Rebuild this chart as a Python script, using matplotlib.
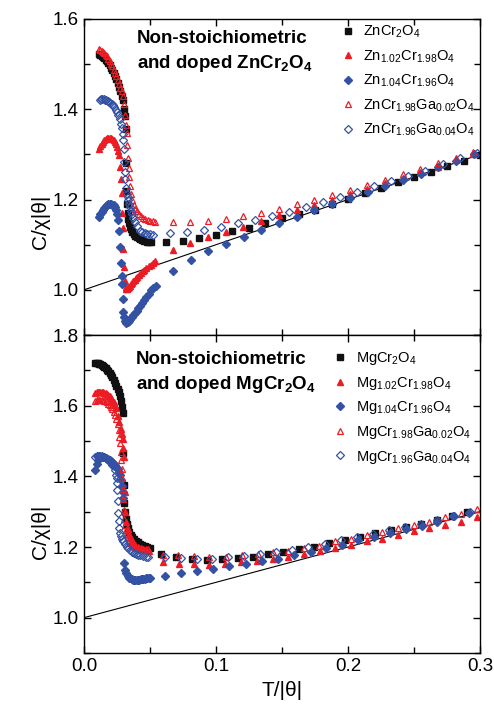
import matplotlib
matplotlib.use('Agg')
import matplotlib.pyplot as plt
from matplotlib.ticker import MultipleLocator

plt.rcParams['font.family'] = ['Liberation Sans', 'DejaVu Sans']
plt.rcParams['mathtext.default'] = 'regular'

RED = '#ec1c24'
BLUE = '#3452a4'
BLACK = '#111111'

# Curie-Weiss reference line  C/chi|theta| = 1 + T/|theta|
cw_x = [0.0, 0.3]
cw_y = [1.0, 1.3]

# ---------------- Top panel: Zn family ----------------
zn_labels = [r'ZnCr$_{2}$O$_{4}$', r'Zn$_{1.02}$Cr$_{1.98}$O$_{4}$', r'Zn$_{1.04}$Cr$_{1.96}$O$_{4}$',
             r'ZnCr$_{1.98}$Ga$_{0.02}$O$_{4}$', r'ZnCr$_{1.96}$Ga$_{0.04}$O$_{4}$']

zn0_x = [0.0115, 0.0125, 0.0135, 0.0145, 0.0155, 0.0165, 0.0175, 0.0185, 0.0195, 0.0205, 0.0215, 0.0225,
         0.0235, 0.0245, 0.0255, 0.0265, 0.0275, 0.0285, 0.0295, 0.0303, 0.0310, 0.0315, 0.0320, 0.0322,
         0.0325, 0.0330, 0.0336, 0.0343, 0.0350, 0.0358, 0.0367, 0.0377, 0.0388, 0.0400, 0.0413, 0.0427,
         0.0442, 0.0458, 0.0475, 0.0492, 0.0505,
         0.0625, 0.075, 0.0875, 0.1, 0.1125, 0.125, 0.1375, 0.15, 0.1625, 0.175, 0.1875, 0.2, 0.2125, 0.225,
         0.2375, 0.25, 0.2625, 0.275, 0.2875, 0.3]
zn0_y = [1.522, 1.520, 1.518, 1.516, 1.513, 1.510, 1.506, 1.502, 1.497, 1.492, 1.486, 1.480,
         1.473, 1.466, 1.458, 1.449, 1.440, 1.430, 1.420, 1.400, 1.385, 1.356, 1.282, 1.220,
         1.190, 1.170, 1.158, 1.148, 1.140, 1.134, 1.128, 1.123, 1.120, 1.117, 1.114, 1.112,
         1.110, 1.108, 1.107, 1.106, 1.105,
         1.107, 1.109, 1.114, 1.121, 1.130, 1.138, 1.148, 1.159, 1.169, 1.178, 1.190, 1.201, 1.214, 1.226,
         1.238, 1.250, 1.262, 1.274, 1.286, 1.299]

zn1_x = [0.0115, 0.0125, 0.0135, 0.0145, 0.0155, 0.0165, 0.0175, 0.0185, 0.0195, 0.0205, 0.0215, 0.0225,
         0.0235, 0.0245, 0.0253, 0.0260, 0.0266, 0.0273, 0.0279, 0.0285, 0.0290, 0.0294, 0.0298, 0.0303,
         0.0308, 0.0316, 0.0322, 0.0328, 0.0334, 0.0340, 0.0347, 0.0355, 0.0364, 0.0373, 0.0383, 0.0394,
         0.0405, 0.0417, 0.0430, 0.0444, 0.0458, 0.0473, 0.0489, 0.0505, 0.0522, 0.0540,
         0.0672, 0.0806, 0.094, 0.1074, 0.1208, 0.1342, 0.1476, 0.161, 0.1744, 0.1878, 0.2012, 0.2146,
         0.228, 0.2414, 0.2548, 0.2682, 0.2816, 0.295]
zn1_y = [1.313, 1.318, 1.323, 1.327, 1.331, 1.334, 1.336, 1.337, 1.337, 1.336, 1.334, 1.331,
         1.327, 1.322, 1.316, 1.308, 1.298, 1.272, 1.245, 1.214, 1.170, 1.138, 1.090, 1.050,
         1.020, 1.006, 1.003, 1.002, 1.004, 1.006, 1.009, 1.012, 1.015, 1.019, 1.022, 1.026,
         1.029, 1.033, 1.037, 1.041, 1.045, 1.049, 1.053, 1.056, 1.060, 1.064,
         1.088, 1.104, 1.116, 1.129, 1.140, 1.153, 1.165, 1.177, 1.188, 1.200, 1.213, 1.224,
         1.236, 1.248, 1.260, 1.273, 1.287, 1.300]

zn2_x = [0.0115, 0.0125, 0.0135, 0.0145, 0.0155, 0.0165, 0.0175, 0.0185, 0.0195, 0.0205, 0.0215, 0.0225,
         0.0235, 0.0245, 0.0253, 0.0260, 0.0266, 0.0273, 0.0279, 0.0285, 0.0290, 0.0294, 0.0298, 0.0303,
         0.0308, 0.0315, 0.0322, 0.0330, 0.0339, 0.0349, 0.0360, 0.0372, 0.0385, 0.0398, 0.0412, 0.0426,
         0.0441, 0.0457, 0.0473, 0.0490, 0.0508, 0.0525, 0.0543,
         0.0674, 0.0808, 0.0942, 0.1076, 0.121, 0.1344, 0.1478, 0.1612, 0.1746, 0.188, 0.2014, 0.2148,
         0.2282, 0.2416, 0.255, 0.2684, 0.2818, 0.2952]
zn2_y = [1.161, 1.167, 1.173, 1.178, 1.182, 1.186, 1.188, 1.190, 1.190, 1.190, 1.189, 1.187,
         1.184, 1.178, 1.168, 1.155, 1.130, 1.094, 1.060, 1.030, 1.013, 0.980, 0.952, 0.940,
         0.931, 0.928, 0.927, 0.928, 0.931, 0.935, 0.939, 0.944, 0.949, 0.954, 0.960, 0.965,
         0.971, 0.977, 0.984, 0.991, 0.999, 1.004, 1.009,
         1.042, 1.066, 1.085, 1.102, 1.118, 1.133, 1.147, 1.162, 1.176, 1.190, 1.204, 1.217,
         1.230, 1.244, 1.257, 1.272, 1.285, 1.300]

zn3_x = [0.0115, 0.0125, 0.0135, 0.0145, 0.0155, 0.0165, 0.0175, 0.0185, 0.0195, 0.0205, 0.0215, 0.0225,
         0.0235, 0.0245, 0.0255, 0.0265, 0.0275, 0.0285, 0.0295, 0.0303, 0.0310, 0.0317, 0.0323, 0.0328,
         0.0333, 0.0338, 0.0343, 0.0348, 0.0357, 0.0367, 0.0378, 0.0390, 0.0403, 0.0417, 0.0432, 0.0448,
         0.0465, 0.0483, 0.0500, 0.0520, 0.0538,
         0.0672, 0.0806, 0.094, 0.1074, 0.1208, 0.1342, 0.1476, 0.161, 0.1744, 0.1878, 0.2012, 0.2146,
         0.228, 0.2414, 0.2548, 0.2682, 0.2816, 0.295]
zn3_y = [1.534, 1.532, 1.530, 1.528, 1.525, 1.521, 1.517, 1.512, 1.507, 1.501, 1.495, 1.488,
         1.481, 1.473, 1.465, 1.457, 1.448, 1.440, 1.430, 1.412, 1.388, 1.365, 1.347, 1.320,
         1.293, 1.270, 1.250, 1.231, 1.212, 1.198, 1.188, 1.180, 1.174, 1.168, 1.164, 1.160,
         1.157, 1.155, 1.153, 1.152, 1.151,
         1.150, 1.150, 1.153, 1.158, 1.164, 1.170, 1.179, 1.190, 1.200, 1.210, 1.222, 1.233,
         1.244, 1.256, 1.268, 1.281, 1.293, 1.305]

zn4_x = [0.0120, 0.0130, 0.0140, 0.0150, 0.0160, 0.0170, 0.0180, 0.0190, 0.0200, 0.0210, 0.0220, 0.0230,
         0.0240, 0.0250, 0.0260, 0.0270, 0.0280, 0.0288, 0.0294, 0.0299, 0.0303, 0.0306, 0.0309, 0.0313,
         0.0318, 0.0324, 0.0330, 0.0336, 0.0342, 0.0348, 0.0355, 0.0361, 0.0370, 0.0386, 0.0400, 0.0424,
         0.0440, 0.0462, 0.0480, 0.0500, 0.0525,
         0.0652, 0.0781, 0.091, 0.1039, 0.1168, 0.1297, 0.1426, 0.1555, 0.1684, 0.1813, 0.1942, 0.2071,
         0.22, 0.2329, 0.2458, 0.2587, 0.2716, 0.2845, 0.2974]
zn4_y = [1.421, 1.422, 1.422, 1.422, 1.421, 1.420, 1.419, 1.417, 1.415, 1.412, 1.409, 1.404,
         1.399, 1.393, 1.387, 1.378, 1.368, 1.358, 1.345, 1.331, 1.313, 1.283, 1.260, 1.246,
         1.225, 1.212, 1.205, 1.198, 1.190, 1.183, 1.175, 1.168, 1.160, 1.150, 1.142, 1.131,
         1.128, 1.125, 1.124, 1.123, 1.122,
         1.125, 1.128, 1.133, 1.139, 1.147, 1.154, 1.163, 1.172, 1.183, 1.194, 1.205, 1.216,
         1.229, 1.241, 1.253, 1.264, 1.278, 1.291, 1.304]

# ---------------- Bottom panel: Mg family ----------------
mg_labels = [r'MgCr$_{2}$O$_{4}$', r'Mg$_{1.02}$Cr$_{1.98}$O$_{4}$', r'Mg$_{1.04}$Cr$_{1.96}$O$_{4}$',
             r'MgCr$_{1.98}$Ga$_{0.02}$O$_{4}$', r'MgCr$_{1.96}$Ga$_{0.04}$O$_{4}$']

mg0_x = [0.0085, 0.0095, 0.0105, 0.0115, 0.0125, 0.0135, 0.0145, 0.0155, 0.0165, 0.0175, 0.0185, 0.0195,
         0.0205, 0.0215, 0.0225, 0.0235, 0.0245, 0.0255, 0.0265, 0.0273, 0.0280, 0.0286, 0.0292, 0.0298,
         0.0300, 0.0303, 0.0310, 0.0317, 0.0325, 0.0334, 0.0344, 0.0355, 0.0367, 0.0380, 0.0394, 0.0409,
         0.0425, 0.0442, 0.0460, 0.0480, 0.0500,
         0.0583, 0.0699, 0.0815, 0.0931, 0.1047, 0.1163, 0.1279, 0.1395, 0.1511, 0.1627, 0.1743, 0.1859,
         0.1975, 0.2091, 0.2207, 0.2323, 0.2439, 0.2555, 0.2671, 0.2787, 0.2903]
mg0_y = [1.720, 1.720, 1.720, 1.719, 1.718, 1.716, 1.713, 1.710, 1.706, 1.702, 1.697, 1.692,
         1.686, 1.680, 1.673, 1.665, 1.657, 1.648, 1.638, 1.626, 1.612, 1.596, 1.579, 1.466,
         1.376, 1.325, 1.298, 1.279, 1.265, 1.253, 1.243, 1.235, 1.228, 1.222, 1.217, 1.213,
         1.209, 1.205, 1.202, 1.199, 1.197,
         1.181, 1.173, 1.167, 1.164, 1.166, 1.169, 1.173, 1.180, 1.187, 1.193, 1.201, 1.211,
         1.219, 1.228, 1.240, 1.247, 1.256, 1.266, 1.277, 1.289, 1.298]

mg1_x = [0.0085, 0.0095, 0.0105, 0.0115, 0.0125, 0.0135, 0.0145, 0.0155, 0.0165, 0.0175, 0.0185, 0.0195,
         0.0205, 0.0215, 0.0225, 0.0235, 0.0245, 0.0256, 0.0268, 0.0281, 0.0288, 0.0294, 0.0298, 0.0302,
         0.0308, 0.0313, 0.0320, 0.0330, 0.0340, 0.0350, 0.0360, 0.0375, 0.0390, 0.0410, 0.0430, 0.0450,
         0.0470, 0.0490,
         0.0601, 0.0717, 0.0833, 0.0949, 0.1069, 0.1189, 0.1309, 0.1429, 0.1549, 0.1667, 0.1785, 0.1903,
         0.2021, 0.2141, 0.226, 0.2379, 0.2498, 0.2617, 0.2736, 0.2855, 0.2975]
mg1_y = [1.636, 1.638, 1.640, 1.640, 1.640, 1.639, 1.638, 1.637, 1.635, 1.633, 1.630, 1.626,
         1.622, 1.617, 1.611, 1.603, 1.593, 1.570, 1.555, 1.535, 1.520, 1.505, 1.480, 1.454,
         1.357, 1.298, 1.270, 1.250, 1.237, 1.228, 1.220, 1.212, 1.206, 1.201, 1.197, 1.194,
         1.192, 1.190,
         1.157, 1.153, 1.152, 1.150, 1.153, 1.157, 1.161, 1.166, 1.173, 1.180, 1.190, 1.197,
         1.206, 1.216, 1.224, 1.235, 1.244, 1.254, 1.263, 1.271, 1.285]

mg2_x = [0.0085, 0.0095, 0.0105, 0.0115, 0.0125, 0.0135, 0.0145, 0.0155, 0.0165, 0.0175, 0.0185, 0.0195,
         0.0205, 0.0215, 0.0225, 0.0235, 0.0245, 0.0255, 0.0265, 0.0273, 0.0281, 0.0288, 0.0294, 0.0299,
         0.0304, 0.0312, 0.0320, 0.0330, 0.0340, 0.0350, 0.0360, 0.0370, 0.0380, 0.0390, 0.0400, 0.0410,
         0.0420, 0.0430, 0.0440, 0.0450, 0.0460, 0.0470, 0.0480, 0.0490, 0.0500,
         0.0617, 0.0737, 0.0859, 0.098, 0.1101, 0.1225, 0.1348, 0.1472, 0.1594, 0.1717, 0.1836, 0.1957,
         0.2078, 0.2197, 0.2318, 0.2439, 0.2558, 0.2677, 0.2798, 0.2919]
mg2_y = [1.419, 1.435, 1.447, 1.454, 1.456, 1.456, 1.455, 1.454, 1.452, 1.450, 1.448, 1.446,
         1.443, 1.440, 1.436, 1.432, 1.427, 1.420, 1.412, 1.403, 1.390, 1.372, 1.357, 1.340,
         1.155, 1.136, 1.125, 1.117, 1.113, 1.111, 1.109, 1.108, 1.108, 1.108, 1.108, 1.108,
         1.108, 1.109, 1.109, 1.110, 1.110, 1.111, 1.111, 1.112, 1.112,
         1.119, 1.126, 1.131, 1.138, 1.145, 1.152, 1.159, 1.167, 1.177, 1.187, 1.197, 1.207,
         1.219, 1.228, 1.240, 1.251, 1.260, 1.272, 1.287, 1.296]

mg3_x = [0.0085, 0.0095, 0.0105, 0.0115, 0.0125, 0.0135, 0.0145, 0.0155, 0.0165, 0.0175, 0.0185, 0.0195,
         0.0205, 0.0215, 0.0225, 0.0235, 0.0245, 0.0255, 0.0262, 0.0268, 0.0273, 0.0277, 0.0281, 0.0285,
         0.0289, 0.0293, 0.0297, 0.0301, 0.0306, 0.0311, 0.0317, 0.0324, 0.0332, 0.0341, 0.0351, 0.0362,
         0.0374, 0.0387, 0.0401, 0.0416, 0.0432, 0.0449, 0.0467, 0.0486,
         0.0601, 0.0715, 0.083, 0.0949, 0.1076, 0.12, 0.1321, 0.1434, 0.1548, 0.1667, 0.1783, 0.1902,
         0.202, 0.2141, 0.226, 0.2381, 0.25, 0.2616, 0.2735, 0.2856, 0.2975]
mg3_y = [1.614, 1.616, 1.617, 1.617, 1.617, 1.617, 1.616, 1.614, 1.612, 1.609, 1.605, 1.601,
         1.596, 1.590, 1.582, 1.573, 1.562, 1.548, 1.530, 1.512, 1.494, 1.470, 1.445, 1.420,
         1.395, 1.365, 1.335, 1.305, 1.280, 1.262, 1.248, 1.236, 1.226, 1.218, 1.211, 1.206,
         1.202, 1.199, 1.197, 1.196, 1.195, 1.194, 1.194, 1.193,
         1.178, 1.178, 1.175, 1.173, 1.173, 1.176, 1.181, 1.185, 1.190, 1.196, 1.204, 1.216,
         1.224, 1.234, 1.242, 1.253, 1.263, 1.272, 1.284, 1.294, 1.307]

mg4_x = [0.0085, 0.0095, 0.0105, 0.0115, 0.0125, 0.0135, 0.0145, 0.0155, 0.0165, 0.0175, 0.0185, 0.0195,
         0.0205, 0.0215, 0.0225, 0.0232, 0.0240, 0.0247, 0.0250, 0.0253, 0.0256, 0.0260, 0.0264, 0.0268,
         0.0273, 0.0278, 0.0288, 0.0298, 0.0310, 0.0323, 0.0336, 0.0348, 0.0362, 0.0377, 0.0393, 0.0410,
         0.0428, 0.0447, 0.0467, 0.0487,
         0.0614, 0.0733, 0.0853, 0.0973, 0.1092, 0.1212, 0.1333, 0.1455, 0.1578, 0.1699, 0.1826, 0.1947,
         0.207, 0.2192, 0.2311, 0.2432, 0.2551, 0.2677, 0.2803, 0.2924]
mg4_y = [1.455, 1.457, 1.458, 1.458, 1.458, 1.457, 1.456, 1.455, 1.453, 1.450, 1.447, 1.443,
         1.438, 1.433, 1.428, 1.418, 1.405, 1.395, 1.380, 1.362, 1.330, 1.296, 1.275, 1.254,
         1.240, 1.230, 1.222, 1.216, 1.208, 1.201, 1.196, 1.192, 1.187, 1.183, 1.180, 1.178,
         1.176, 1.175, 1.173, 1.172,
         1.171, 1.168, 1.166, 1.167, 1.171, 1.174, 1.180, 1.186, 1.192, 1.200, 1.209, 1.219,
         1.228, 1.238, 1.247, 1.257, 1.266, 1.277, 1.289, 1.300]

styles = [dict(marker='s', color=BLACK, mfc=BLACK, mec=BLACK, ms=4.3),
          dict(marker='^', color=RED, mfc=RED, mec=RED, ms=4.8),
          dict(marker='D', color=BLUE, mfc=BLUE, mec=BLUE, ms=3.6),
          dict(marker='^', color=RED, mfc='none', mec=RED, ms=4.8, mew=0.9),
          dict(marker='D', color=BLUE, mfc='none', mec=BLUE, ms=3.6, mew=0.9)]

fig = plt.figure(figsize=(4.94, 7.05), dpi=100)
ax1 = fig.add_axes([0.1700, 0.52482, 0.8017, 0.44823])
ax2 = fig.add_axes([0.1700, 0.07376, 0.8017, 0.45106])

panels = [
    (ax1, [(zn0_x, zn0_y), (zn1_x, zn1_y), (zn2_x, zn2_y), (zn3_x, zn3_y), (zn4_x, zn4_y)], zn_labels,
     (0.9, 1.6)),
    (ax2, [(mg0_x, mg0_y), (mg1_x, mg1_y), (mg2_x, mg2_y), (mg3_x, mg3_y), (mg4_x, mg4_y)], mg_labels,
     (0.9, 1.8)),
]

for ax, series, labels, ylim in panels:
    ax.plot(cw_x, cw_y, color='black', lw=0.8, zorder=1)
    for (xs, ys), st, lab in zip(series, styles, labels):
        ax.plot(xs, ys, linestyle='none', label=lab, zorder=2, **st)
    ax.set_xlim(0.0, 0.3)
    ax.set_ylim(*ylim)
    ax.xaxis.set_major_locator(MultipleLocator(0.1))
    ax.xaxis.set_minor_locator(MultipleLocator(0.05))
    ax.yaxis.set_major_locator(MultipleLocator(0.2))
    ax.yaxis.set_minor_locator(MultipleLocator(0.1))
    ax.tick_params(which='both', direction='in', top=True, right=True, width=1.0, labelsize=13.5)
    ax.tick_params(which='major', length=5)
    ax.tick_params(which='minor', length=4)
    for s in ax.spines.values():
        s.set_linewidth(1.0)
    ax.set_yticks([v for v in ax.get_yticks() if 0.95 < v < ylim[1] + 0.01])

ax1.tick_params(labelbottom=False)
ax2.xaxis.set_major_formatter(matplotlib.ticker.FormatStrFormatter('%.1f'))
ax1.yaxis.set_major_formatter(matplotlib.ticker.FormatStrFormatter('%.1f'))
ax2.yaxis.set_major_formatter(matplotlib.ticker.FormatStrFormatter('%.1f'))

leg_kw = dict(frameon=False, handlelength=0.8,
              borderpad=0.0, borderaxespad=0.0, fontsize=10.5, numpoints=1, loc='upper left')
ax1.legend(bbox_to_anchor=(0.652, 0.984), labelspacing=0.55, handletextpad=0.6, **leg_kw)
ax2.legend(bbox_to_anchor=(0.6325, 0.952), labelspacing=0.52, handletextpad=0.7, **leg_kw)

# panel annotations
fig.text(0.277, 0.939, 'Non-stoichiometric', fontsize=13.5, fontweight='bold', va='baseline')
fig.text(0.277, 0.9035, r'and doped ZnCr$_{2}$O$_{4}$', fontsize=13.5, fontweight='bold', va='baseline')
fig.text(0.275, 0.4837, 'Non-stoichiometric', fontsize=13.5, fontweight='bold', va='baseline')
fig.text(0.275, 0.448, r'and doped MgCr$_{2}$O$_{4}$', fontsize=13.5, fontweight='bold', va='baseline')

# axis labels
fig.text(0.081, 0.685, 'C/χ|θ|', rotation=90, fontsize=15, ha='center', va='center')
fig.text(0.081, 0.245, 'C/χ|θ|', rotation=90, fontsize=15, ha='center', va='center')
fig.text(0.571, 0.021, 'T/|θ|', fontsize=15, ha='center', va='center')

fig.savefig('out.png', dpi=100)
